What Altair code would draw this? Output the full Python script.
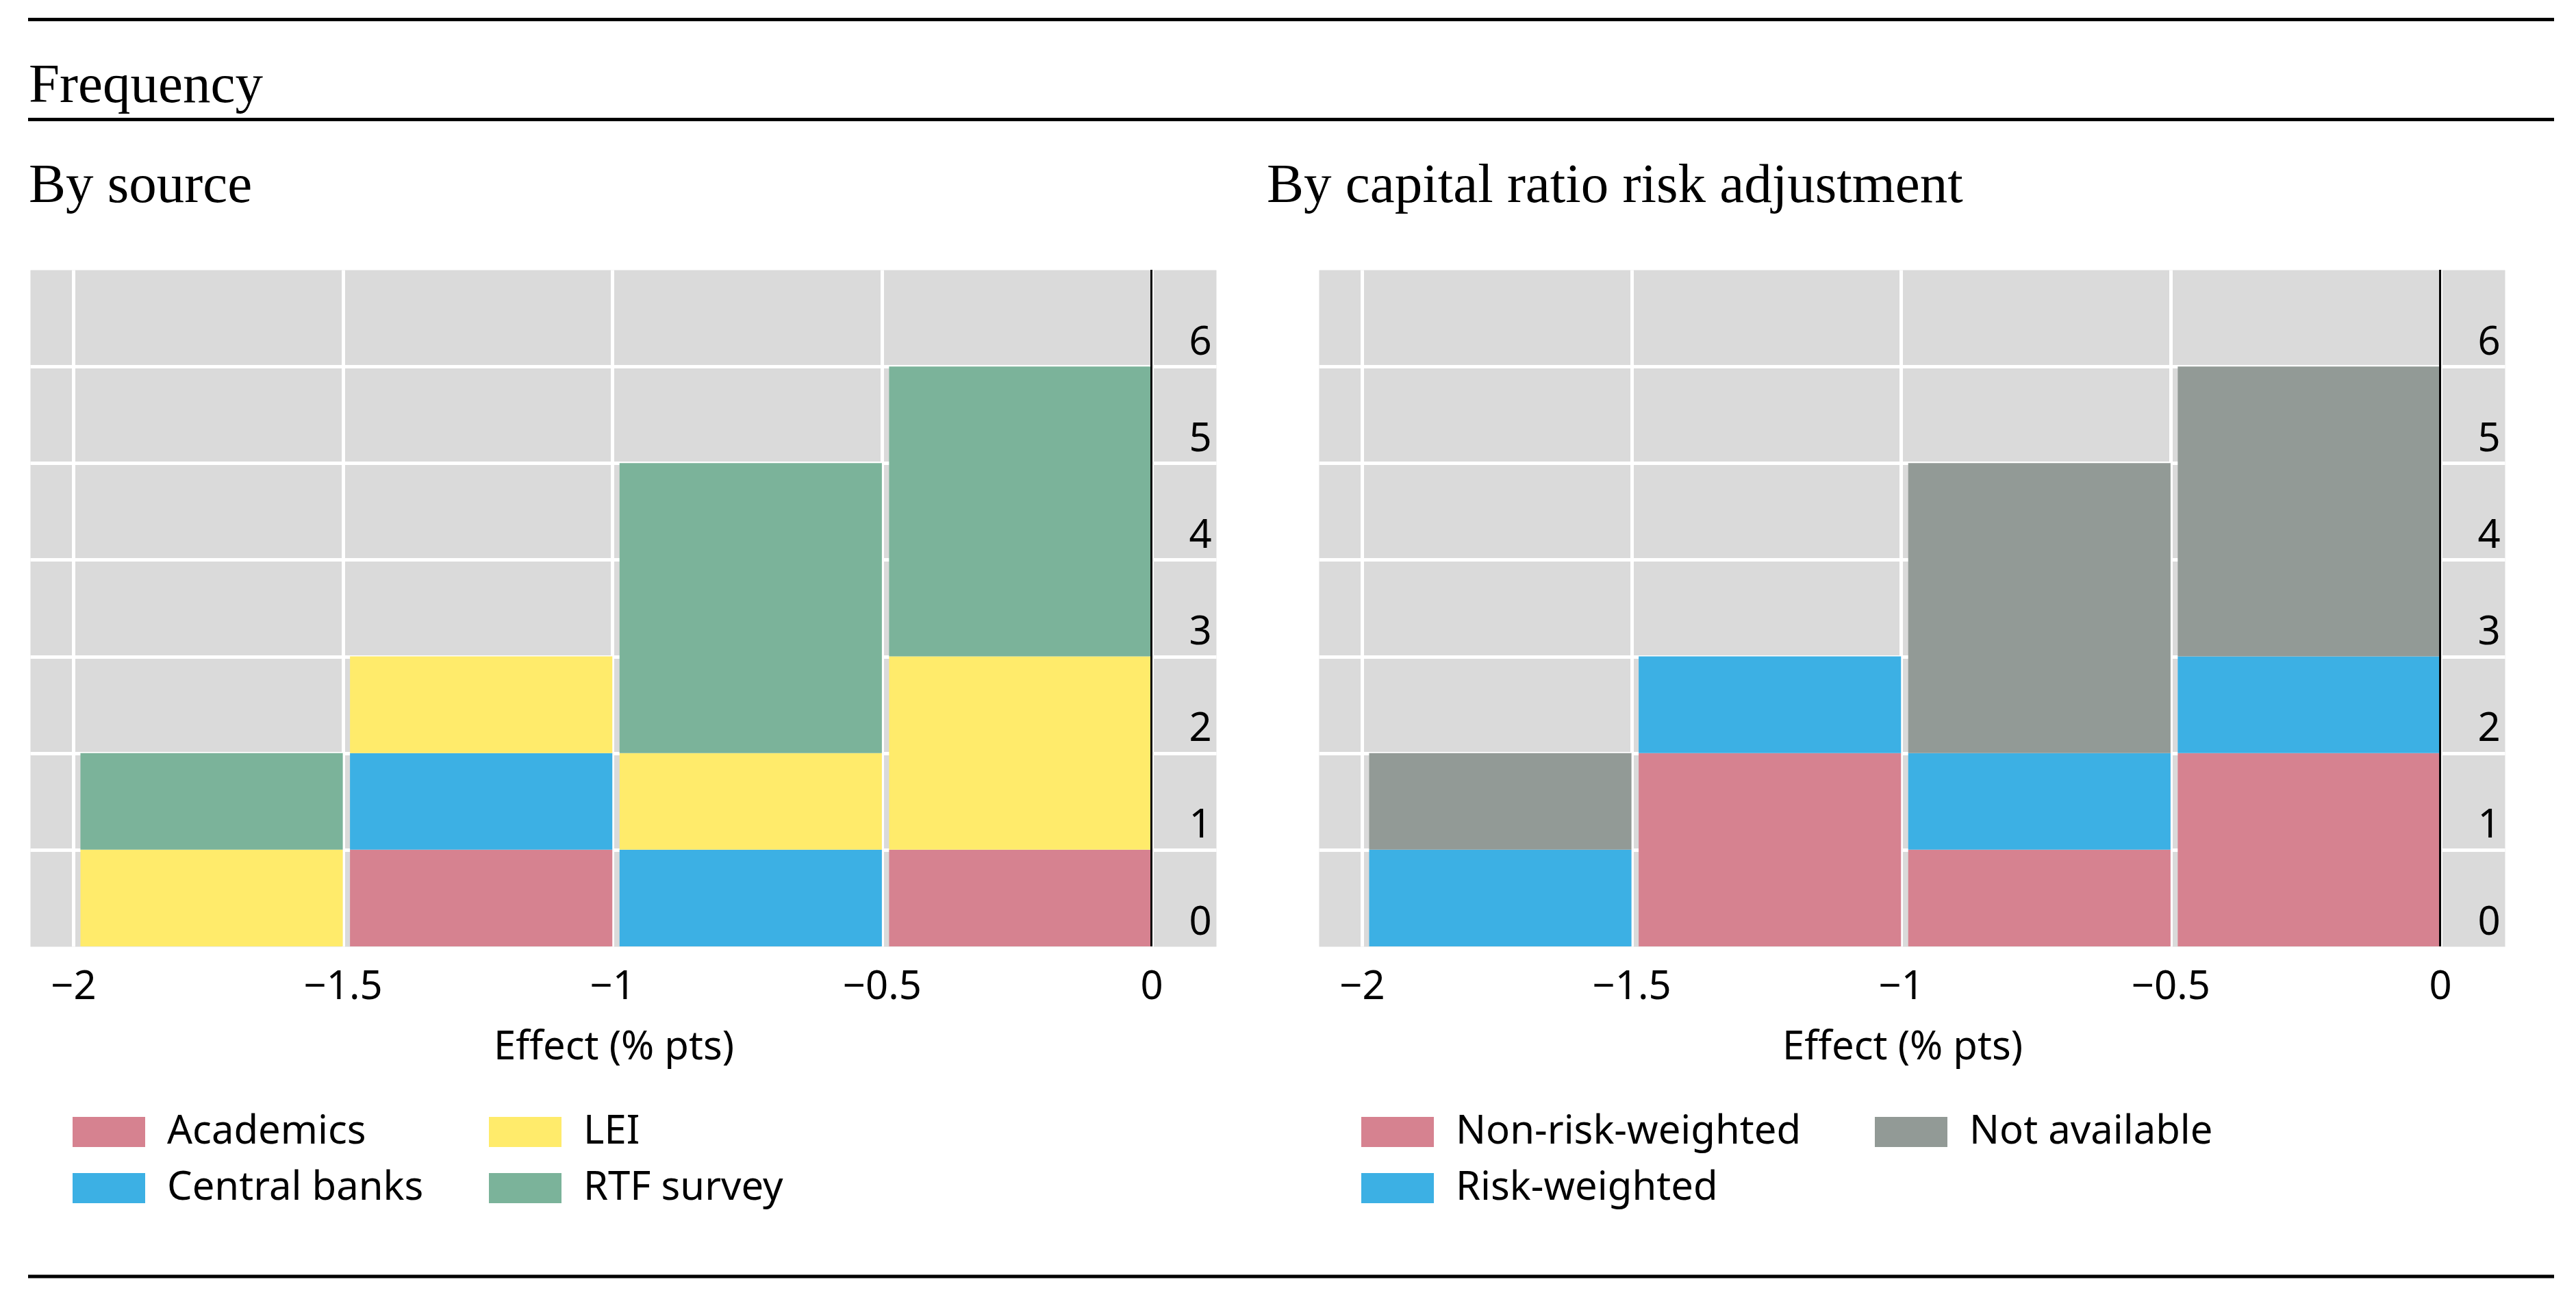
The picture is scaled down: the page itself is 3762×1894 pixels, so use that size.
import altair as alt
import pandas as pd

# ---- data ----
bin_starts = [-2.0, -1.5, -1.0, -0.5]
bin_ends = [-1.5, -1.0, -0.5, 0.0]

source_names = ["Academics", "Central banks", "LEI", "RTF survey"]
source_academics = [0, 1, 0, 1]
source_central_banks = [0, 1, 1, 0]
source_lei = [1, 1, 1, 2]
source_rtf = [1, 0, 3, 3]
source_colors = ["#d68290", "#3cb0e4", "#ffeb6b", "#7bb39a"]

risk_names = ["Non-risk-weighted", "Risk-weighted", "Not available"]
risk_nrw = [0, 2, 1, 2]
risk_rw = [1, 1, 1, 1]
risk_na = [1, 0, 3, 3]
risk_colors = ["#d68290", "#3cb0e4", "#929a96"]

x_ticks = [-2, -1.5, -1, -0.5, 0]
y_ticks = [0, 1, 2, 3, 4, 5, 6]

main_title = "Frequency"
left_title = "By source"
right_title = "By capital ratio risk adjustment"
x_title = "Effect (% pts)"


def stack(names, series):
    rows = []
    for i, (s, e) in enumerate(zip(bin_starts, bin_ends)):
        base = 0
        for name, counts in zip(names, series):
            c = counts[i]
            if c > 0:
                rows.append(dict(start=s, end=e, cat=name, y0=base, y1=base + c))
                base += c
    return pd.DataFrame(rows)


src_df = stack(source_names, [source_academics, source_central_banks, source_lei, source_rtf])
risk_df = stack(risk_names, [risk_nrw, risk_rw, risk_na])

W, H = 1732, 988
SANS = "Noto Sans"
SERIF = "Liberation Serif"
SERIF_SIZE = 81


def panel(df, names, colors, title_text, title_dx, col_pad):
    x_axis = alt.Axis(
        values=x_ticks, format="~g", title=x_title, grid=True, gridColor="white",
        gridWidth=5, domain=False, ticks=False, tickSize=0, labelFont=SANS,
        labelFontSize=58, labelColor="black", labelPadding=76,
        labelBaseline="alphabetic", labelFlush=False, labelOverlap=False,
        titleFont=SANS, titleFontSize=58, titleFontWeight="normal",
        titleColor="black", titleX=852, titleY=164, titleAlign="center",
        titleBaseline="alphabetic",
    )
    y_axis = alt.Axis(
        orient="right", values=y_ticks, format="d", title=None, grid=True,
        gridColor=alt.condition("datum.value == 0", alt.value("transparent"), alt.value("white")),
        gridWidth=5, domain=False, ticks=False, tickSize=0, labelFont=SANS,
        labelFontSize=58, labelColor="black", labelPadding=-40, labelAlign="left",
        labelBaseline="alphabetic", labelOffset=-18, labelFlush=False,
        labelOverlap=False,
    )
    legend = alt.Legend(
        orient="none", legendX=62, legendY=1206, columns=2, columnPadding=col_pad,
        rowPadding=-29, symbolType="M-1,-0.415H1V0.415H-1Z", symbolSize=11236,
        symbolStrokeWidth=0, symbolOpacity=1, labelFont=SANS, labelFontSize=58,
        labelColor="black", labelOffset=32, labelLimit=2000, padding=0,
        gridAlign="each",
    )
    bars = alt.Chart(df).mark_bar(xOffset=10.5, strokeWidth=0).encode(
        x=alt.X("start:Q", scale=alt.Scale(domain=[-2.08, 0.12], nice=False, zero=False), axis=x_axis),
        x2="end:Q",
        y=alt.Y("y0:Q", scale=alt.Scale(domain=[0, 7], nice=False, zero=False), axis=y_axis),
        y2="y1:Q",
        color=alt.Color(
            "cat:N", title=None,
            scale=alt.Scale(domain=names, range=colors),
            legend=legend,
        ),
    )
    zero = alt.Chart(pd.DataFrame({"v": [0]})).mark_rule(color="black", strokeWidth=3).encode(
        x=alt.datum(0), y=alt.value(0), y2=alt.value(H)
    )
    ttl = alt.Chart(pd.DataFrame({"t": [title_text]})).mark_text(
        align="left", baseline="alphabetic", font=SERIF, fontSize=SERIF_SIZE, color="black"
    ).encode(x=alt.value(title_dx), y=alt.value(-99), text="t:N")
    return [bars, zero, ttl]


left_layers = panel(src_df, source_names, source_colors, left_title, -2, 95)
right_layers = panel(risk_df, risk_names, risk_colors, right_title, -76, 107)

one = pd.DataFrame({"t": [main_title]})
freq = alt.Chart(one).mark_text(
    align="left", baseline="alphabetic", font=SERIF, fontSize=SERIF_SIZE, color="black"
).encode(x=alt.value(-2), y=alt.value(-245), text="t:N")
rule_top = alt.Chart(one).mark_rule(color="black", strokeWidth=5).encode(
    x=alt.value(-3), x2=alt.value(3686), y=alt.value(-365.5))
rule_mid = alt.Chart(one).mark_rule(color="black", strokeWidth=5).encode(
    x=alt.value(-3), x2=alt.value(3686), y=alt.value(-219.5))
rule_bot = alt.Chart(one).mark_rule(color="black", strokeWidth=5).encode(
    x=alt.value(-3), x2=alt.value(3686), y=alt.value(1470))

left = alt.layer(*left_layers, freq, rule_top, rule_mid, rule_bot).properties(width=W, height=H)
right = alt.layer(*right_layers).properties(width=W, height=H)

chart = (
    alt.hconcat(left, right, spacing=150, bounds="flush")
    .resolve_scale(color="independent")
    .properties(padding={"left": 30, "top": 17, "right": 5, "bottom": 5})
    .configure(font=SANS)
    .configure_view(fill="#dadada", stroke="transparent")
)

chart.save("out.html", embed_options={"renderer": "svg", "actions": False})
